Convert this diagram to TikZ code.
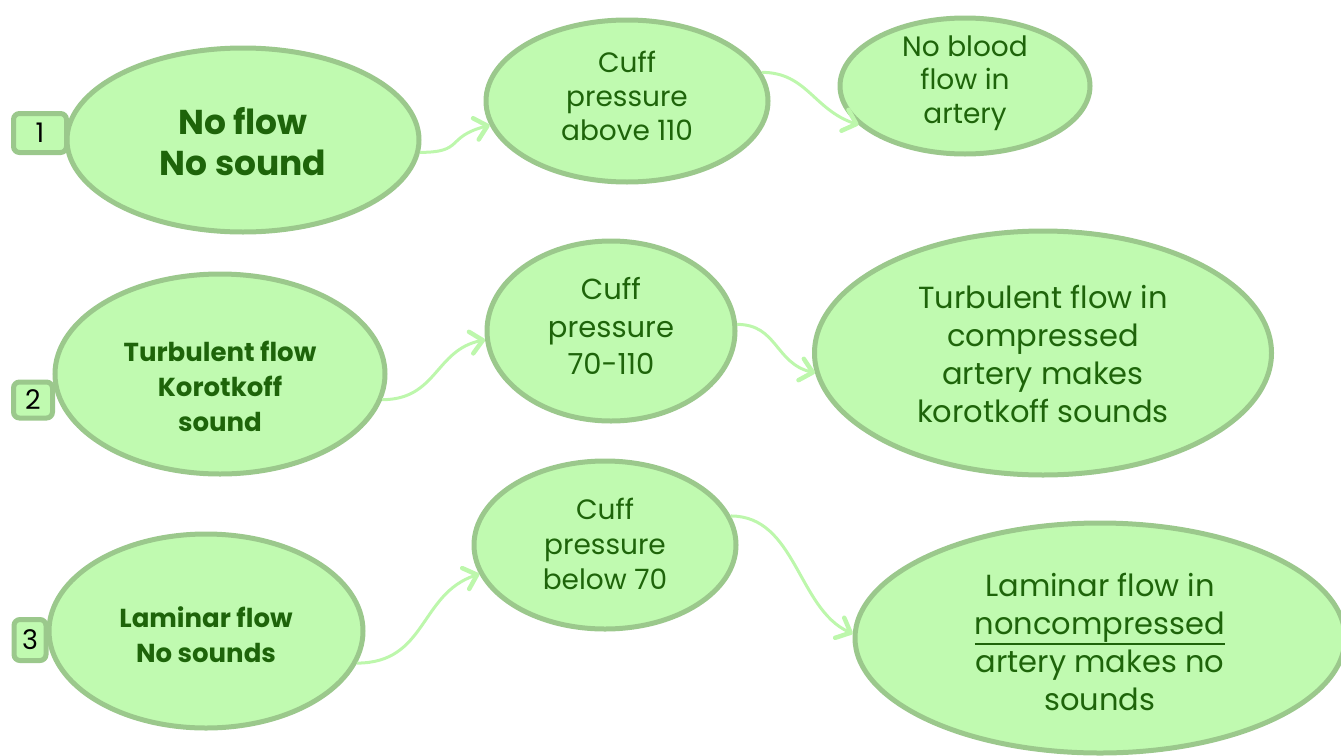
\documentclass[tikz,border=0pt]{standalone}
\usepackage{fontspec}
\setmainfont{Poppins}
\usetikzlibrary{shapes.geometric,arrows.meta}
\definecolor{fillg}{HTML}{C0FAB0}
\definecolor{edgeg}{HTML}{9BC88C}
\definecolor{textg}{HTML}{1E640A}
\definecolor{arrg}{HTML}{BDF7AC}
\newcommand\thickul[1]{\vtop{\hbox{#1}\kern0.5pt\hrule height 2.5pt}}
\tikzset{
  bub/.style={ellipse,draw=edgeg,fill=fillg,line width=5pt,inner sep=0pt},
  numbox/.style={rectangle,rounded corners=6pt,draw=edgeg,fill=fillg,line width=5pt,inner sep=0pt,text=black,font=\fontsize{27}{30}\selectfont},
  txt/.style={align=center,text=textg,inner sep=0pt},
  boldtxt/.style={txt,font=\bfseries},
  conn/.style={draw=arrg,line width=3pt,-{Straight Barb[length=12pt,width=22pt,line width=4.5pt,round]}}
}
\begin{document}
\begin{tikzpicture}[x=1pt,y=-1pt]
\useasboundingbox (0,0) rectangle (1341,755);
% row 1
\node[bub,minimum width=352pt,minimum height=184pt] (A1) at (243,140) {};
\node[bub,minimum width=282pt,minimum height=162pt] (B1) at (627,101) {};
\node[bub,minimum width=250pt,minimum height=136pt] (C1) at (965,86) {};
\node[numbox,minimum width=53pt,minimum height=39pt] (N1) at (40,133) {1};
\node[boldtxt,font=\bfseries\fontsize{34.5}{41}\selectfont] (A1t) at (243,142) {No flow\\No sound};
\node[txt,font=\fontsize{28}{34}\selectfont] (B1t) at (627,96) {Cuff\\pressure\\above 110};
\node[txt,font=\fontsize{28}{33.5}\selectfont] (C1t) at (965,83) {No blood\\flow in\\artery};
% row 2
\node[bub,minimum width=330pt,minimum height=200pt] (A2) at (220,374) {};
\node[bub,minimum width=248pt,minimum height=180pt] (B2) at (611,331) {};
\node[bub,minimum width=457pt,minimum height=244pt] (C2) at (1043,353) {};
\node[numbox,minimum width=39pt,minimum height=36pt] (N2) at (33,400) {2};
\node[boldtxt,font=\bfseries\fontsize{26}{35}\selectfont] (A2t) at (220,386) {Turbulent flow\\Korotkoff\\sound};
\node[txt,font=\fontsize{29}{37.5}\selectfont] (B2t) at (611,326) {Cuff\\pressure\\70-110};
\node[txt,font=\fontsize{30.5}{38}\selectfont] (C2t) at (1043,354) {Turbulent flow in\\compressed\\artery makes\\korotkoff sounds};
% row 3
\node[bub,minimum width=314pt,minimum height=194pt] (A3) at (206,631) {};
\node[bub,minimum width=262pt,minimum height=168pt] (B3) at (605,545) {};
\node[bub,minimum width=490pt,minimum height=230pt] (C3) at (1100,638) {};
\node[numbox,minimum width=32pt,minimum height=41pt] (N3) at (30,640) {3};
\node[boldtxt,font=\bfseries\fontsize{26}{35}\selectfont] (A3t) at (206,635) {Laminar flow\\No sounds};
\node[txt,font=\fontsize{28}{35}\selectfont] (B3t) at (605,544) {Cuff\\pressure\\below 70};
\node[txt,font=\fontsize{30.5}{38}\selectfont] (C3t) at (1100,642) {Laminar flow in\\\thickul{noncompressed}\\artery makes no\\sounds};
% connectors
\draw[conn] (A1.-4) .. controls +(45,0) and +(-45,12) .. (B1.190);
\draw[conn] (B1.12) .. controls +(45,0) and +(-45,-15) .. (C1.200);
\draw[conn] (A2.-9) .. controls +(55,0) and +(-50,10) .. (B2.184);
\draw[conn] (B2.3) .. controls +(40,0) and +(-40,-10) .. (C2.185);
\draw[conn] (A3.-12) .. controls +(70,0) and +(-60,20) .. (B3.193);
\draw[conn] (B3.13) .. controls +(65,0) and +(-55,-25) .. (C3.179);
\end{tikzpicture}
\end{document}
